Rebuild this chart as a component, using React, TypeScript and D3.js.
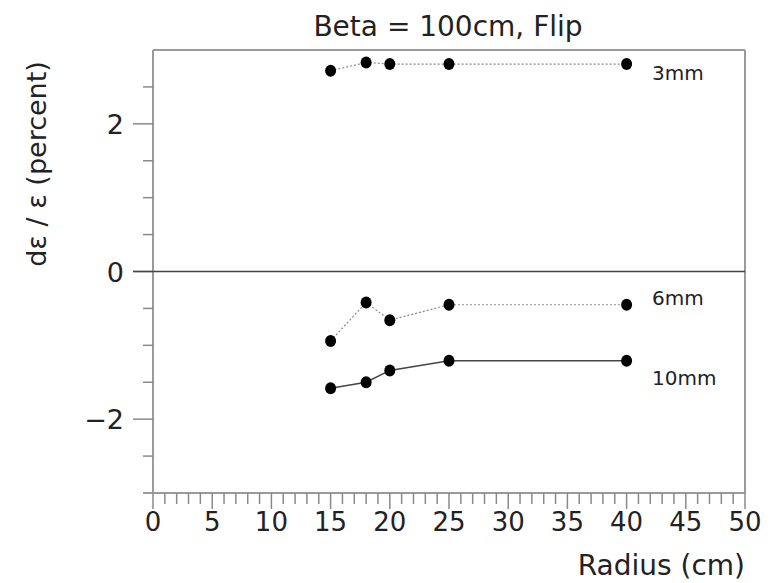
import React from "react";
import * as d3 from "d3";

const radius = [15, 18, 20, 25, 40];
const series3mm = [2.72, 2.83, 2.81, 2.81, 2.81];
const series6mm = [-0.94, -0.42, -0.66, -0.45, -0.45];
const series10mm = [-1.58, -1.5, -1.34, -1.21, -1.21];
const seriesLabels = ["3mm", "6mm", "10mm"];
const xTickLabels = [0, 5, 10, 15, 20, 25, 30, 35, 40, 45, 50];
const yTickLabels = [-2, 0, 2];

const W = 778, H = 583;
const L = 153, R = 745, T = 50, B = 493;
const FONT = "'DejaVu Sans', sans-serif";

export default function App() {
  const x = d3.scaleLinear().domain([0, 50]).range([L, R]);
  const y = d3.scaleLinear().domain([-3, 3]).range([B, T]);
  const line = d3.line<[number, number]>().x(d => x(d[0])).y(d => y(d[1]));
  const pts = (vals: number[]) => radius.map((r, i) => [r, vals[i]] as [number, number]);
  const series = [
    { vals: series3mm, stroke: "#8a8a8a", dash: "2,2", w: 1.2, label: seriesLabels[0] },
    { vals: series6mm, stroke: "#8a8a8a", dash: "2,2", w: 1.2, label: seriesLabels[1] },
    { vals: series10mm, stroke: "#444", dash: undefined, w: 1.5, label: seriesLabels[2] },
  ];
  const labelY = [y(series3mm[4]) + 16, y(series6mm[4]) - 0, y(series10mm[4]) + 24];
  const xMinor = d3.range(0, 51, 1);
  const yMinor = d3.range(-3, 3.01, 0.5).filter(v => v > -3 && v < 3);

  return (
    <svg width={W} height={H} style={{ position: "absolute", left: 0, top: 0, background: "#fff" }}
      fontFamily={FONT}>
      {/* title */}
      <text x={448} y={36} textAnchor="middle" fontSize={28} fill="#222">Beta = 100cm, Flip</text>

      {/* frame */}
      <g stroke="#9a9a9a" strokeWidth={2} fill="none">
        <line x1={L} y1={T} x2={R} y2={T} />
        <line x1={L} y1={T} x2={L} y2={B} />
        <line x1={R} y1={T} x2={R} y2={B} />
        <line x1={L - 10} y1={B} x2={R} y2={B} />
      </g>

      {/* x ticks */}
      <g stroke="#8a8a8a" strokeWidth={1.5}>
        {xMinor.map(v => (
          <line key={v} x1={x(v)} x2={x(v)} y1={B} y2={B + (v % 5 === 0 ? 16 : 11)} />
        ))}
      </g>
      <g fontSize={26} fill="#222" textAnchor="middle">
        {xTickLabels.map(v => (
          <text key={v} x={x(v)} y={B + 38}>{v}</text>
        ))}
      </g>
      <text x={R} y={575} textAnchor="end" fontSize={28} fill="#222">Radius (cm)</text>

      {/* y ticks */}
      <g stroke="#8a8a8a" strokeWidth={1.5}>
        {yMinor.map(v => (
          <line key={v} x1={L} x2={L - (Math.abs(v % 2) < 1e-6 ? 20 : 10)} y1={y(v)} y2={y(v)} />
        ))}
      </g>
      <g fontSize={27} fill="#222" textAnchor="end">
        {yTickLabels.map(v => (
          <text key={v} x={124} y={y(v) + 10}>{v < 0 ? "\u2212" + Math.abs(v) : v}</text>
        ))}
      </g>
      <text transform={`translate(46,${164}) rotate(-90)`} textAnchor="middle" fontSize={27} fill="#222">
        dε / ε (percent)
      </text>

      {/* zero line */}
      <line x1={L - 20} x2={R} y1={y(0)} y2={y(0)} stroke="#444" strokeWidth={1.5} />

      {/* series */}
      {series.map((s, si) => (
        <g key={si}>
          <path d={line(pts(s.vals)) || ""} fill="none" stroke={s.stroke} strokeWidth={s.w}
            strokeDasharray={s.dash} />
          {pts(s.vals).map((p, i) => (
            <ellipse key={i} cx={x(p[0])} cy={y(p[1])} rx={5.5} ry={6} fill="#000" />
          ))}
          <text x={652} y={labelY[si]} fontSize={20} fill="#222">{s.label}</text>
        </g>
      ))}
    </svg>
  );
}
